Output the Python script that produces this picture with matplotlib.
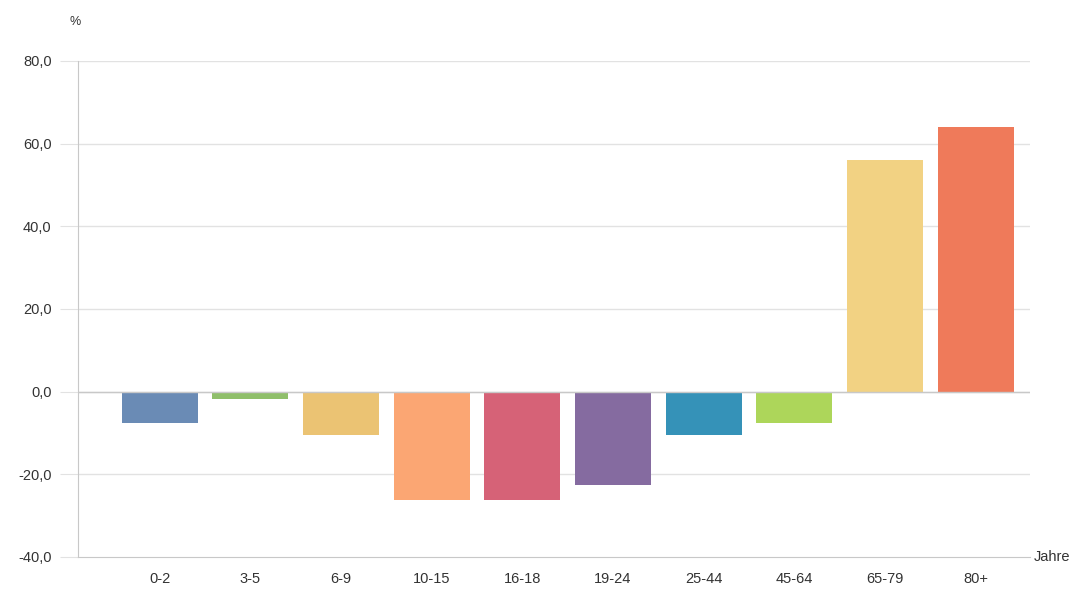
import matplotlib
matplotlib.use("Agg")
import matplotlib.pyplot as plt

plt.rcParams["font.family"] = ["Liberation Sans", "DejaVu Sans"]

categories = ["0-2", "3-5", "6-9", "10-15", "16-18", "19-24", "25-44", "45-64", "65-79", "80+"]
values = [-7.5, -1.7, -10.4, -26.3, -26.3, -22.5, -10.4, -7.5, 56.0, 64.0]
colors = ["#6a8bb5", "#8fbf6a", "#ebc373", "#fba673", "#d66277",
          "#856ba0", "#3592b8", "#add65a", "#f2d283", "#ef7a5a"]
yticks = [-40, -20, 0, 20, 40, 60, 80]

W, H = 1085, 594
fig = plt.figure(figsize=(W/100, H/100), dpi=100)
ax = fig.add_axes([78/W, (H-557)/H, (1030-78)/W, (557-61)/H])

x = list(range(len(categories)))
ax.bar(x, values, width=0.84, color=colors, zorder=3)

ax.set_xlim(-0.9, 9.6)
ax.set_ylim(-40, 80)
ax.set_yticks(yticks)
ax.set_yticklabels([f"{v:.1f}".replace(".", ",") for v in yticks])
ax.set_xticks(x)
ax.set_xticklabels(categories)

for v in yticks[1:]:
    ax.axhline(v, color="#e2e2e2", lw=1, zorder=1)
ax.axhline(0, color="#c8c8c8", lw=1, zorder=4)

for s in ["top", "right"]:
    ax.spines[s].set_visible(False)
ax.spines["left"].set_color("#c8c8c8")
ax.spines["bottom"].set_color("#c8c8c8")
ax.tick_params(axis="y", length=13, color="#e2e2e2", labelsize=10.5, labelcolor="#333333", pad=6)
ax.tick_params(axis="x", length=0, labelsize=10.5, labelcolor="#333333", pad=11)

fig.text(70/W, 1 - 22/H, "%", fontsize=9, color="#333333", va="center", ha="left")
fig.text(1034/W, 1 - 557/H, "Jahre", fontsize=10.5, color="#333333", va="center", ha="left")

fig.savefig("out.png", dpi=100)
